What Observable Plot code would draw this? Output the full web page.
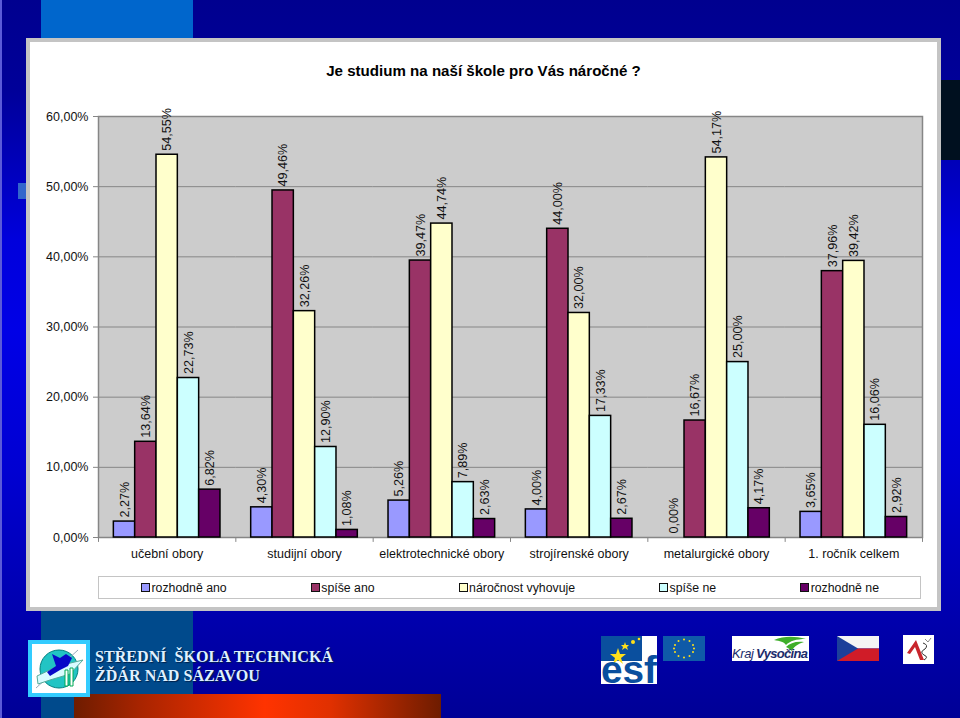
<!DOCTYPE html>
<html lang="cs">
<head>
<meta charset="utf-8">
<script src="https://cdn.jsdelivr.net/npm/d3@7"></script>
<script src="https://cdn.jsdelivr.net/npm/@observablehq/plot@0.6"></script>
<style>
html,body{margin:0;padding:0}
body{width:960px;height:718px;position:relative;overflow:hidden;font-family:"Liberation Sans",Arial,sans-serif;
background:linear-gradient(180deg,#00008f 0,#000099 90px,#0000dc 240px,#0000e6 330px,#0000d2 470px,#0000a8 640px,#000096 718px)}
.abs{position:absolute}
#chart{position:absolute;left:0;top:0}
#title{left:30px;width:907px;top:62px;text-align:center;font-weight:bold;font-size:15.1px;color:#000;line-height:18px}
#legend{left:98px;top:576px;width:823px;height:23px;box-sizing:border-box;border:1px solid #c4c4c4;background:#fff;
display:flex;justify-content:space-between;align-items:center;padding:0 41px 0 42px;font-size:12.3px;color:#111}
.item{display:flex;align-items:center;white-space:nowrap}
.sw{width:7px;height:7px;border:1.5px solid #111;margin-right:1.5px;display:inline-block}
#school{left:95px;top:647px;color:#dff0ff;font-family:"Liberation Serif",serif;font-weight:bold;font-size:16.1px;line-height:19px;white-space:pre;text-shadow:1px 1px 1px #00204a}
</style>
</head>
<body>
<div class="abs" style="left:0;top:0;width:1.5px;height:718px;background:#5a5ad8"></div>
<div class="abs" style="left:41px;top:0;width:152px;height:39px;background:#0066cc"></div>
<div class="abs" style="left:41px;top:611px;width:152px;height:107px;background:#004a8c"></div>
<div class="abs" style="left:18px;top:183px;width:9px;height:16px;background:#3366cc"></div>
<div class="abs" style="left:941px;top:80px;width:19px;height:80px;background:#00101f"></div>
<div class="abs" style="left:26px;top:38px;width:915px;height:573px;box-sizing:border-box;border:4px solid #c4c4c4;background:#fff"></div>
<div class="abs" style="left:74px;top:694px;width:367px;height:24px;background:linear-gradient(90deg,#6e1c00 0,#a82400 18%,#ff3300 52%,#e03000 70%,#6e1c00 100%)"></div>

<div id="chart"></div>
<div class="abs" id="title">Je studium na naší škole pro Vás náročné ?</div>
<div class="abs" id="legend"></div>

<svg class="abs" style="left:28px;top:640px" width="63" height="58" viewBox="0 0 63 58">
  <rect x="2" y="2" width="58" height="53" fill="#fff" stroke="#33ccff" stroke-width="4"/>
  <circle cx="31" cy="29" r="19" fill="#22c4c4" stroke="#008080"/>
  <path d="M8 48 L50 10" stroke="#9ab" stroke-width="1"/>
  <path d="M9 36 L30 26 L55 20 L42 34 L22 40 L10 44 Z" fill="#d8fbff" stroke="#5a9"/>
  <path d="M19 32 L28 26 L24 14 L32 18 L38 14 L44 18 L40 26 L32 30 L22 36 Z" fill="#0808c8"/>
  <path d="M37 30 h3 v16 h-3 z M42 28 h3 v18 h-3 z" fill="#fff" stroke="#0a5"/>
</svg>
<div class="abs" id="school">STŘEDNÍ  ŠKOLA TECHNICKÁ
ŽĎÁR NAD SÁZAVOU</div>

<svg class="abs" style="left:601px;top:636px;overflow:visible" width="56" height="48" viewBox="0 0 56 48">
  <rect width="56" height="48" fill="#fff"/>
  <rect width="41" height="25" fill="#0a4f9e"/>
  <polygon points="17,12 19,18 25,18 20,22 22,28 17,24 12,28 14,22 9,18 15,18" fill="#ffe01a"/>
  <polygon points="24,6 25,9 28,9 26,11 27,14 24,12 21,14 22,11 20,9 23,9" fill="#ffe01a"/>
  <circle cx="32" cy="6" r="2" fill="#ffe01a"/><circle cx="38" cy="3" r="1.3" fill="#ffe01a"/>
  <text x="0" y="47" font-family="Liberation Sans" font-weight="bold" font-size="38" fill="#0a4f9e" textLength="56" lengthAdjust="spacingAndGlyphs">esf</text>
</svg>
<svg class="abs" style="left:663px;top:636px" width="42" height="25" viewBox="0 0 42 25">
  <rect width="42" height="25" fill="#0f5aa8"/>
  <g fill="#ffe01a"><circle cx="21" cy="3.5" r="1"/><circle cx="26.5" cy="5" r="1"/><circle cx="30" cy="9" r="1"/><circle cx="31" cy="12.5" r="1"/><circle cx="30" cy="16" r="1"/><circle cx="26.5" cy="20" r="1"/><circle cx="21" cy="21.5" r="1"/><circle cx="15.5" cy="20" r="1"/><circle cx="12" cy="16" r="1"/><circle cx="11" cy="12.5" r="1"/><circle cx="12" cy="9" r="1"/><circle cx="15.5" cy="5" r="1"/></g>
</svg>
<svg class="abs" style="left:732px;top:636px" width="77" height="25" viewBox="0 0 77 25">
  <rect width="77" height="25" fill="#fff"/>
  <path d="M42 4 C52 0 62 0 74 3 C64 3 58 5 54 9 C52 6 48 5 42 4 Z M54 11 C58 7 64 5 72 6 C66 8 62 10 60 15 C58 13 56 12 54 11 Z" fill="#3fae2a"/>
  <text x="0" y="22" font-family="Liberation Sans" font-size="13" font-style="italic" fill="#1b2c6b" textLength="22">Kraj</text>
  <text x="24" y="22" font-family="Liberation Sans" font-size="13" font-weight="bold" font-style="italic" fill="#1b2c6b" textLength="52">Vysočina</text>
</svg>
<svg class="abs" style="left:837px;top:636px" width="42" height="25" viewBox="0 0 42 25">
  <rect width="42" height="12.5" fill="#f4f4f4"/><rect y="12.5" width="42" height="12.5" fill="#d01c28"/>
  <polygon points="0,0 21,12.5 0,25" fill="#1c3f9a"/>
</svg>
<svg class="abs" style="left:903px;top:635px" width="31" height="29" viewBox="0 0 31 29">
  <rect width="31" height="29" fill="#fff"/>
  <path d="M4 18 L13 5 L21 25 L17 25 L12 12 L7 19 Z" fill="#c8252c"/>
  <path d="M20 8 q6 2 2 6 q-6 3 -1 6 q5 2 0 5" fill="none" stroke="#333" stroke-width="1"/>
  <path d="M22 4 l3 3 l3 -4" fill="none" stroke="#888" stroke-width="1"/>
</svg>

<script>
const groups = ["učební obory", "studijní obory", "elektrotechnické obory", "strojírenské obory", "metalurgické obory", "1. ročník celkem"];
const series = ["rozhodně ano", "spíše ano", "náročnost vyhovuje", "spíše ne", "rozhodně ne"];
const colors = ["#9999ff", "#993366", "#ffffcc", "#ccffff", "#660066"];
const rozhodneAno = [2.27, 4.30, 5.26, 4.00, 0.00, 3.65];
const spiseAno = [13.64, 49.46, 39.47, 44.00, 16.67, 37.96];
const narocnost = [54.55, 32.26, 44.74, 32.00, 54.17, 39.42];
const spiseNe = [22.73, 12.90, 7.89, 17.33, 25.00, 16.06];
const rozhodneNe = [6.82, 1.08, 2.63, 2.67, 4.17, 2.92];
const yTicks = [0, 10, 20, 30, 40, 50, 60];

const columns = [rozhodneAno, spiseAno, narocnost, spiseNe, rozhodneNe];
const rows = groups.flatMap((g, i) => series.map((s, j) => ({group: g, series: s, value: columns[j][i]})));
const pct = v => v.toFixed(2).replace(".", ",") + "%";
const grid = "#868686";
const font = "Liberation Sans, Arial, sans-serif";
const outer = 0.72;
const step = (960 - 98 - 38) / groups.length / (series.length + 2 * outer);
const edge = (outer + 0.5) * step;

const plot = Plot.plot({
  width: 960, height: 718,
  marginLeft: 98, marginRight: 38, marginTop: 116, marginBottom: 181,
  style: {background: "transparent", fontFamily: font, fontSize: "12.5px", color: "#111"},
  fx: {domain: groups, padding: 0, round: false, label: null},
  x: {domain: series, paddingInner: 0, paddingOuter: outer, round: false, axis: null},
  y: {domain: [0, 60], ticks: yTicks, label: null},
  color: {domain: series, range: colors},
  marks: [
    Plot.frame({facet: "super", fill: "#cccccc", stroke: grid, strokeWidth: 1.5}),
    Plot.ruleY(yTicks.slice(1, -1), {stroke: grid, strokeWidth: 1}),
    Plot.axisY({ticks: yTicks, tickFormat: pct, tickSize: 5, tickPadding: 5, stroke: grid, label: null, fontSize: 12.5, fill: "#111"}),
    Plot.axisFx({anchor: "bottom", tickSize: 0, tickPadding: 12, label: null, fontSize: 12.5, fill: "#111"}),
    Plot.ruleX(groups, {fx: d => d, x: () => series[0], y1: 0, y2: -0.7, dx: -edge, stroke: grid}),
    Plot.ruleX(groups.slice(-1), {fx: d => d, x: () => series[4], y1: 0, y2: -0.7, dx: edge, stroke: grid}),
    Plot.barY(rows, {fx: "group", x: "series", y: "value", fill: "series", stroke: "#000", strokeWidth: 1.5}),
    Plot.text(rows, {fx: "group", x: "series", y: "value", text: d => pct(d.value), rotate: -90,
      textAnchor: "start", dy: -4, fontSize: 12.6, fill: "#111"})
  ]
});
document.getElementById("chart").appendChild(plot);

const legend = document.getElementById("legend");
series.forEach((s, i) => {
  const item = document.createElement("span");
  item.className = "item";
  const sw = document.createElement("span");
  sw.className = "sw";
  sw.style.background = colors[i];
  item.appendChild(sw);
  item.appendChild(document.createTextNode(s));
  legend.appendChild(item);
});
</script>
</body>
</html>
